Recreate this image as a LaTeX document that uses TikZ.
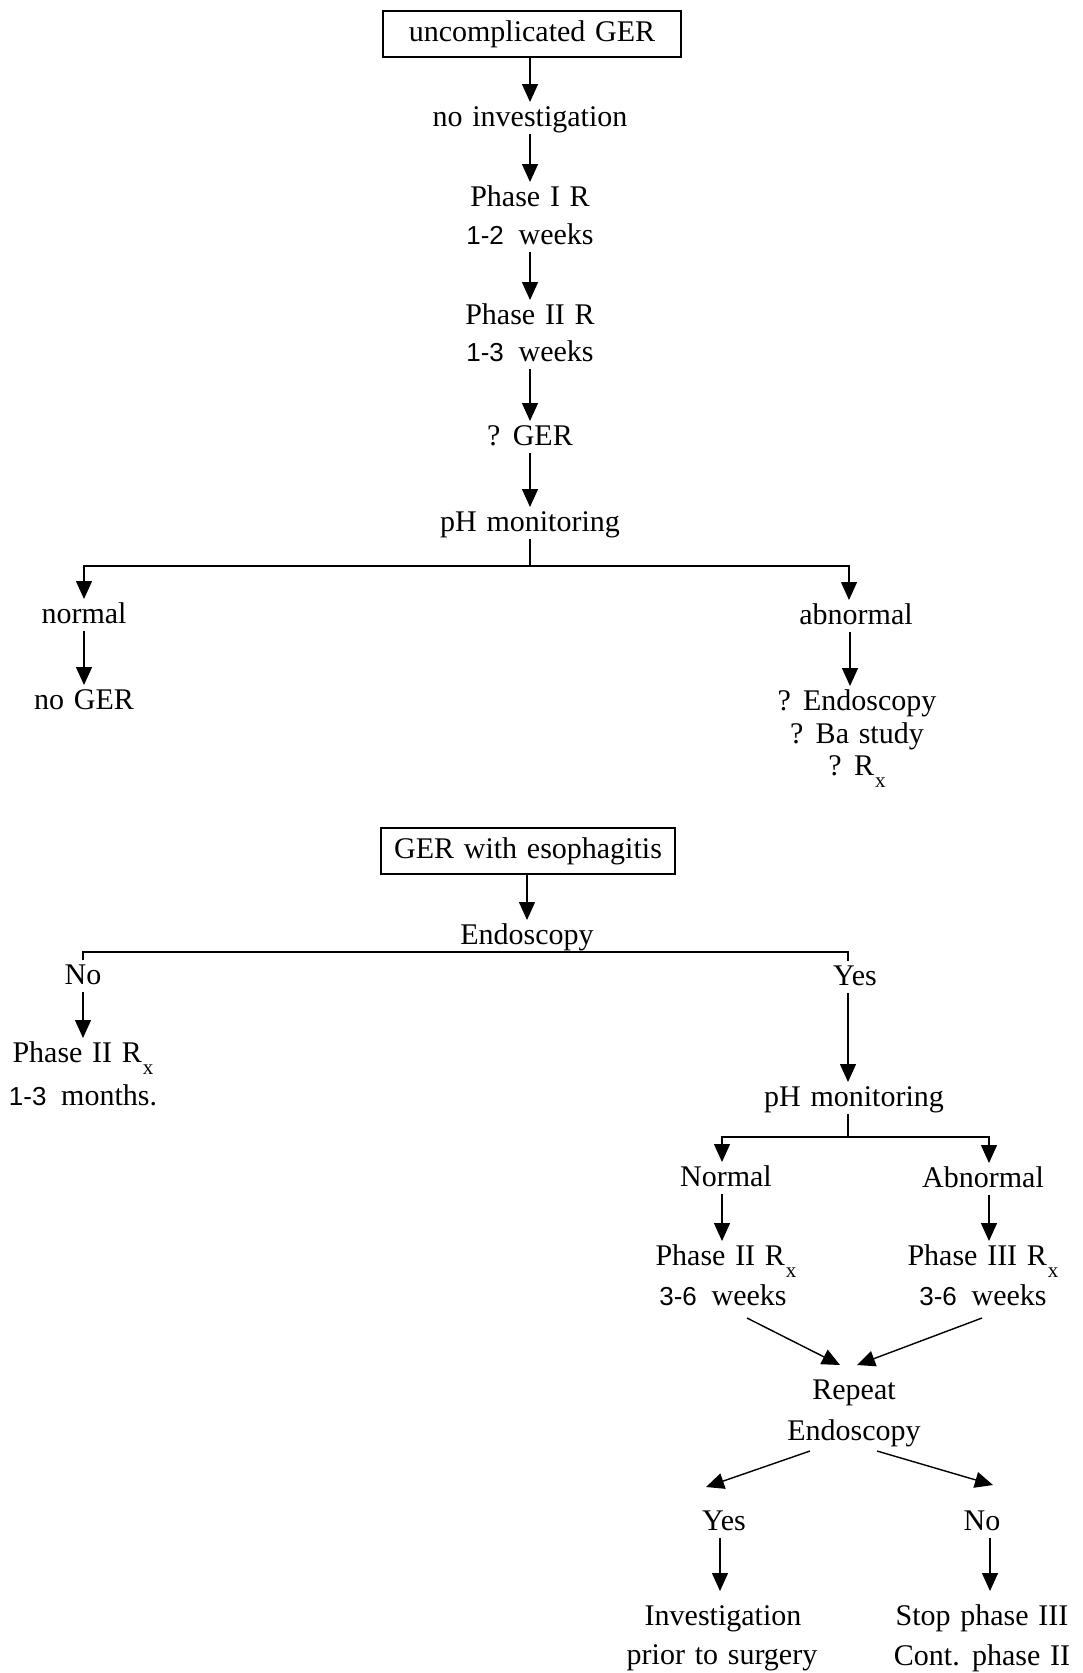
\documentclass[tikz,border=0pt]{standalone}
\usepackage{fontspec}
\setmainfont[WordSpace=1.3]{Liberation Serif}
\newfontfamily\digfont{Liberation Sans}
\usetikzlibrary{arrows.meta}
\newcommand\dg[1]{{\digfont\fontsize{26}{30}\selectfont #1}}
\newcommand\Rsx{R\hspace{1pt}\raisebox{-12pt}{\fontsize{21}{21}\selectfont x}}
\begin{document}
\begin{tikzpicture}[x=1pt,y=-1pt,
 txt/.style={font=\fontsize{30}{36}\selectfont, inner sep=0pt, outer sep=0pt, text height=24pt, text depth=8pt, anchor=base},
 boxn/.style={draw, line width=1.4pt, font=\fontsize{30}{36}\selectfont, inner sep=0pt, outer sep=0pt, text height=21pt, text depth=7pt, anchor=center},
 conn/.style={line width=1.4pt},
 arrw/.style={line width=1.4pt, -{Triangle[length=18pt,width=16pt]}},
]
\fill[white] (0,0) rectangle (1082,1673);
\useasboundingbox (0,0) rectangle (1082,1673);

% ---------- upper chart ----------
\node[boxn, minimum width=298pt, minimum height=46pt] (box1) at (532,34) {uncomplicated GER};
\node[txt] (noinv) at (530,126) {no investigation};
\node[txt] (p1) at (530,206) {Phase I R};
\node[txt] (p1w) at (530,244) {\dg{1-2}\hspace{5pt} weeks};
\node[txt] (p2) at (530,324) {Phase II R};
\node[txt] (p2w) at (530,361) {\dg{1-3}\hspace{5pt} weeks};
\node[txt] (qger) at (530,445) {? GER};
\node[txt] (ph1) at (530,531) {pH monitoring};
\coordinate (br1) at (530,566);
\node[txt] (normal) at (84,623) {normal};
\node[txt] (noger) at (84,709) {no GER};
\node[txt] (abn) at (856,624) {abnormal};
\node[txt] (qendo) at (857,710) {? Endoscopy};
\node[txt] (qba) at (857,743) {? Ba study};
\node[txt] (qrx) at (857,775) {? \Rsx};

\draw[arrw] (box1.south -| noinv.north) -- (noinv.north);
\draw[arrw] (noinv.south) -- (p1.north);
\draw[arrw] (p1w.south) -- (p2.north);
\draw[arrw] (p2w.south) -- (qger.north);
\draw[arrw] (qger.south) -- (ph1.north);
\draw[conn] (ph1.south) -- (br1);
\draw[arrw] (br1) -| (normal.north);
\draw[arrw] (br1) -| ([xshift=-7pt]abn.north);
\draw[arrw] (normal.south) -- (normal.south |- noger.north);
\draw[arrw] ([xshift=-6pt]abn.south) -- ([xshift=-6pt]abn.south |- qendo.north);

% ---------- lower chart ----------
\node[boxn, minimum width=294pt, minimum height=46pt] (box2) at (528,851) {GER with esophagitis};
\node[txt] (endo) at (527,944) {Endoscopy};
\node[txt] (no) at (83,984) {No};
\node[txt] (yes) at (855,985) {Yes};
\node[txt] (p2rx) at (83,1062) {Phase II \Rsx};
\node[txt] (m13) at (83,1105) {\dg{1-3}\hspace{5pt} months.};
\node[txt] (ph2) at (854,1106) {pH monitoring};
\coordinate (br2) at (848,1137);
\node[txt] (nrm) at (726,1186) {Normal};
\node[txt] (abn2) at (983,1187) {Abnormal};
\node[txt] (p2rx2) at (726,1265) {Phase II \Rsx};
\node[txt] (w1) at (723,1305) {\dg{3-6}\hspace{5pt} weeks};
\node[txt] (p3rx) at (983,1265) {Phase III \Rsx};
\node[txt] (w2) at (983,1305) {\dg{3-6}\hspace{5pt} weeks};
\node[txt] (rep) at (854,1399) {Repeat};
\node[txt] (endo2) at (854,1440) {Endoscopy};
\node[txt] (yes2) at (724,1530) {Yes};
\node[txt] (no2) at (982,1530) {No};
\node[txt] (inv) at (723,1625) {Investigation};
\node[txt] (prior) at (722,1664) {prior to surgery};
\node[txt] (stop) at (982,1625) {Stop phase III};
\node[txt] (cont) at (982,1665) {Cont. phase II};

\draw[arrw] (box2.south -| endo.north) -- (endo.north);
\draw[conn] (no.north) |- (endo.south) -| ([xshift=-7pt]yes.north);
\draw[arrw] (no.south) -- (no.south |- p2rx.north);
\draw[arrw] ([xshift=-7pt]yes.south) -- ([xshift=-7pt]yes.south |- ph2.north);
\draw[conn] ([xshift=-6pt]ph2.south) -- (br2);
\draw[arrw] (br2) -| ([xshift=-4pt]nrm.north);
\draw[arrw] (br2) -| ([xshift=6pt]abn2.north);
\draw[arrw] ([xshift=-4pt]nrm.south) -- ([xshift=-4pt]nrm.south |- p2rx2.north);
\draw[arrw] ([xshift=6pt]abn2.south) -- ([xshift=6pt]abn2.south |- p3rx.north);
\draw[arrw] ([xshift=24pt,yshift=-5pt]w1.south) -- ([xshift=-14pt,yshift=10pt]rep.north);
\draw[arrw] ([xshift=-1pt,yshift=-5pt]w2.south) -- ([xshift=3pt,yshift=10pt]rep.north);
\draw[arrw] ([xshift=-44pt,yshift=-3pt]endo2.south) -- ([xshift=-18pt,yshift=19pt]yes2.north);
\draw[arrw] ([xshift=23pt,yshift=-3pt]endo2.south) -- ([xshift=11pt,yshift=21pt]no2.north);
\draw[arrw, shorten >=10pt] ([xshift=-4pt]yes2.south) -- ([xshift=-4pt]yes2.south |- inv.north);
\draw[arrw, shorten >=10pt] ([xshift=8pt]no2.south) -- ([xshift=8pt]no2.south |- stop.north);
\end{tikzpicture}
\end{document}
